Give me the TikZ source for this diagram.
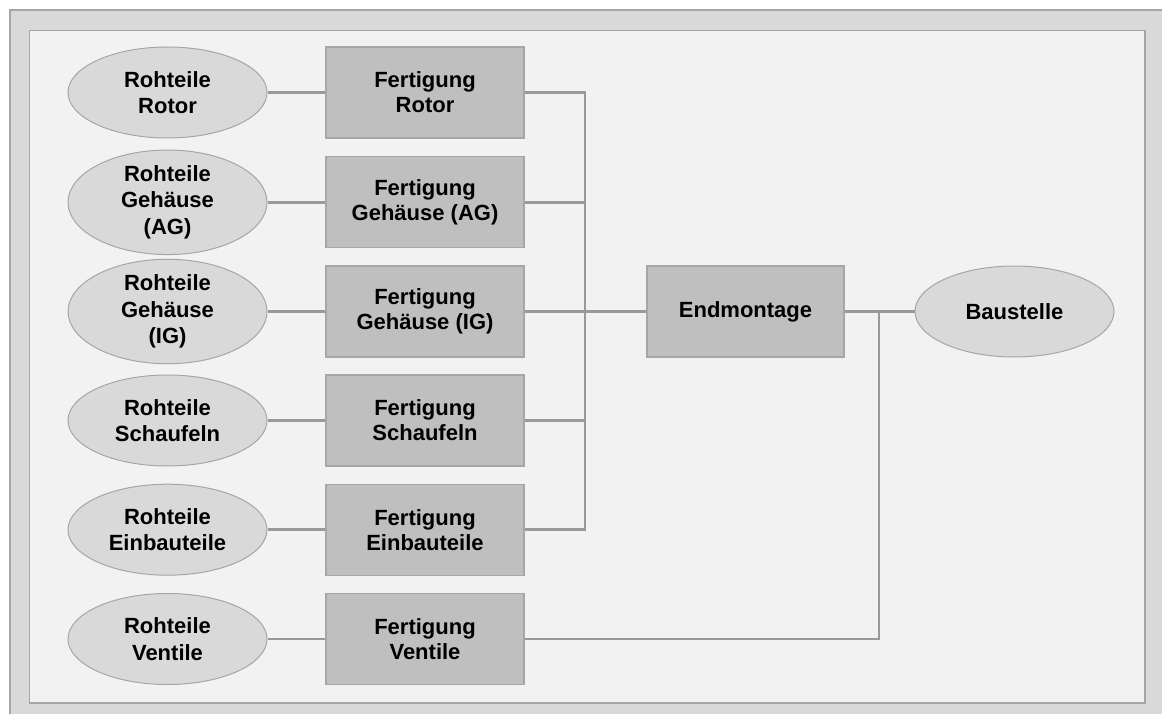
\documentclass[tikz,border=0pt]{standalone}
\usepackage{fontspec}
\setmainfont{Liberation Sans}
\usetikzlibrary{shapes.geometric}
\definecolor{framebg}{HTML}{D9D9D9}
\definecolor{panelbg}{HTML}{F2F2F2}
\definecolor{edgegray}{HTML}{A6A6A6}
\definecolor{linkgray}{HTML}{999999}
\definecolor{rawfill}{HTML}{D9D9D9}
\definecolor{stagefill}{HTML}{BFBFBF}
\begin{document}
\begin{tikzpicture}[x=1pt,y=-1pt,
  raw/.style={ellipse, draw=edgegray, fill=rawfill, line width=1pt,
    minimum width=199pt, minimum height=91pt, inner sep=0pt, align=center,
    font=\bfseries\fontsize{22}{26.7}\selectfont},
  stage/.style={rectangle, draw=edgegray, fill=stagefill, line width=1.2pt,
    minimum width=198pt, minimum height=91pt, inner sep=0pt, align=center,
    font=\bfseries\fontsize{22}{25}\selectfont},
  link/.style={draw=linkgray, line width=2.9pt, line join=miter}]
\useasboundingbox (0,0) rectangle (1162,714);
% outer frame and inner panel
\begin{scope}
  \clip (0,0) rectangle (1162,714);
  \draw[draw=edgegray, fill=framebg, line width=1.2pt] (10,10) rectangle (1190,740);
\end{scope}
\draw[draw=edgegray, fill=panelbg, line width=1.2pt] (29.5,30.5) rectangle (1145,703);

% raw parts
\node[raw] (r1) at (167.5,92.5)  {Rohteile\\Rotor};
\node[raw] (r2) at (167.5,202.3) {Rohteile\\Geh\"ause\\(AG)};
\node[raw] (r3) at (167.5,311.5) {Rohteile\\Geh\"ause\\(IG)};
\node[raw] (r4) at (167.5,420.5) {Rohteile\\Schaufeln};
\node[raw] (r5) at (167.5,529.7) {Rohteile\\Einbauteile};
\node[raw] (r6) at (167.5,639)   {Rohteile\\Ventile};

% manufacturing stages
\node[stage] (f1) at (425,92.5)  {Fertigung\\Rotor};
\node[stage] (f2) at (425,202.3) {Fertigung\\Geh\"ause (AG)};
\node[stage] (f3) at (425,311.5) {Fertigung\\Geh\"ause (IG)};
\node[stage] (f4) at (425,420.5) {Fertigung\\Schaufeln};
\node[stage] (f5) at (425,529.7) {Fertigung\\Einbauteile};
\node[stage] (f6) at (425,639)   {Fertigung\\Ventile};

% assembly and site
\node[stage, minimum width=197pt] (em) at (745.5,311.5) {Endmontage};
\node[raw] (bs) at (1014.5,311.5) {Baustelle};

% junctions
\coordinate (jA) at (585,311.5);
\coordinate (jB) at (879,311.5);

% connectors
\foreach \i in {1,...,6} \draw[link] (r\i.east) -- (f\i.west);
\draw[link] (f1.east) -| (jA);
\draw[link] (f2.east) -| (jA);
\draw[link] (f4.east) -| (jA);
\draw[link] (f5.east) -| (jA);
\draw[link] (f3.east) -- (em.west);
\draw[link] (em.east) -- (bs.west);
\draw[link] (f6.east) -| (jB);
\end{tikzpicture}
\end{document}
